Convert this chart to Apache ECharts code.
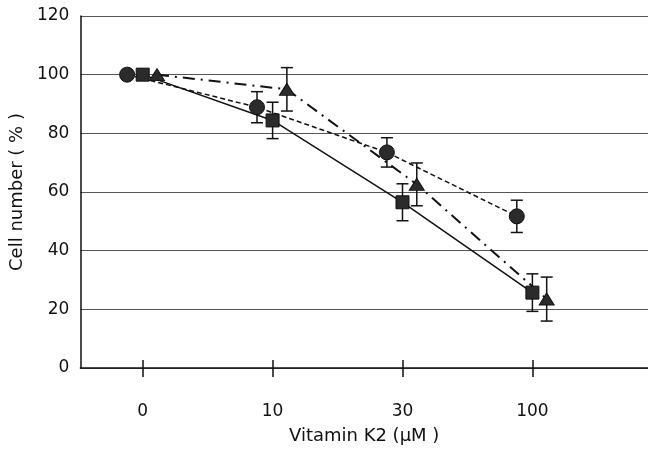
<!DOCTYPE html>
<html>
<head>
<meta charset="utf-8">
<script src="https://cdn.jsdelivr.net/npm/echarts@6/dist/echarts.min.js"></script>
<style>
html, body { margin: 0; padding: 0; background: #fff; }
#main { width: 648px; height: 450px; }
</style>
</head>
<body>
<div id="main"></div>
<script>
// dose categories (plotted at index 0..3)
var doses = ['0', '10', '30', '100'];
var yTicks = [0, 20, 40, 60, 80, 100, 120];

// cell number (%) mean and error
var circleMean = [100, 88.9, 73.5, 51.7];
var circleErr = [0, 5.3, 5.0, 5.5];
var squareMean = [100, 84.4, 56.5, 25.7];
var squareErr = [0, 6.2, 6.3, 6.4];
var triMean = [100, 95.0, 62.6, 23.5];
var triErr = [0, 7.4, 7.3, 7.5];

// horizontal shift of each group so markers don't overlap
var circleShift = -0.12;
var squareShift = 0.0;
var triShift = 0.11;

var font = 'DejaVu Sans, sans-serif';

function pts(mean, shift) {
    return mean.map(function (v, i) { return [i + shift, v]; });
}
function errPts(mean, err, shift) {
    var res = [];
    mean.forEach(function (v, i) {
        if (err[i] > 0) res.push([i + shift, v - err[i], v + err[i]]);
    });
    return res;
}
function errBars(params, api) {
    var x = api.value(0);
    var lo = api.coord([x, api.value(1)]);
    var hi = api.coord([x, api.value(2)]);
    var cap = 6;
    var st = { stroke: '#111', lineWidth: 1.5 };
    return {
        type: 'group',
        children: [
            { type: 'line', shape: { x1: lo[0], y1: lo[1], x2: hi[0], y2: hi[1] }, style: st },
            { type: 'line', shape: { x1: lo[0] - cap, y1: lo[1], x2: lo[0] + cap, y2: lo[1] }, style: st },
            { type: 'line', shape: { x1: hi[0] - cap, y1: hi[1], x2: hi[0] + cap, y2: hi[1] }, style: st }
        ]
    };
}

var myChart = echarts.init(document.getElementById('main'));
var option = {
    animation: false,
    backgroundColor: '#fff',
    grid: { left: 78, right: 0, top: 16, bottom: 76 },
    xAxis: [
        {
            type: 'value',
            min: -0.48,
            max: 3.89,
            name: 'Vitamin K2 (μM )',
            nameLocation: 'middle',
            nameGap: 59,
            nameTextStyle: { color: '#111', fontSize: 18, fontFamily: font },
            axisLine: { show: true, onZero: false, lineStyle: { color: '#111', width: 1.5 } },
            axisTick: { show: true, length: 9, customValues: [0, 1, 2, 3], lineStyle: { color: '#111', width: 1.5 } },
            axisLabel: {
                customValues: [0, 1, 2, 3],
                margin: 35,
                color: '#111', fontSize: 17, fontFamily: font,
                formatter: function (v) { return doses[Math.round(v)]; }
            },
            splitLine: { show: false }
        },
        {
            // inner half of the crossing tick marks
            type: 'value',
            min: -0.48,
            max: 3.89,
            position: 'bottom',
            axisLine: { show: false, onZero: false },
            axisTick: { show: true, inside: true, length: 8, customValues: [0, 1, 2, 3], lineStyle: { color: '#111', width: 1.5 } },
            axisLabel: { show: false },
            splitLine: { show: false }
        }
    ],
    yAxis: {
        type: 'value',
        min: 0,
        max: 120,
        interval: 20,
        name: 'Cell number ( % )',
        nameLocation: 'middle',
        nameGap: 52,
        nameTextStyle: { color: '#111', fontSize: 18, fontFamily: font },
        axisLine: { show: true, onZero: false, lineStyle: { color: '#111', width: 1.5 } },
        axisTick: { show: false },
        axisLabel: { margin: 11, color: '#111', fontSize: 17, fontFamily: font },
        splitLine: { show: true, lineStyle: { color: '#555', width: 1.2 } }
    },
    series: [
        { type: 'custom', renderItem: errBars, data: errPts(circleMean, circleErr, circleShift), z: 3 },
        { type: 'custom', renderItem: errBars, data: errPts(squareMean, squareErr, squareShift), z: 3 },
        { type: 'custom', renderItem: errBars, data: errPts(triMean, triErr, triShift), z: 3 },
        {
            type: 'line', data: pts(circleMean, circleShift), z: 4,
            symbol: 'circle', symbolSize: 15, showAllSymbol: true,
            lineStyle: { color: '#111', width: 1.5, type: [5, 3] },
            itemStyle: { color: '#2b2b2b', borderColor: '#111', borderWidth: 1 }
        },
        {
            type: 'line', data: pts(squareMean, squareShift), z: 4,
            symbol: 'rect', symbolSize: 13, showAllSymbol: true,
            lineStyle: { color: '#111', width: 1.5, type: 'solid' },
            itemStyle: { color: '#2b2b2b', borderColor: '#111', borderWidth: 1 }
        },
        {
            type: 'line', data: pts(triMean, triShift), z: 4,
            symbol: 'triangle', symbolSize: [15, 12], showAllSymbol: true,
            lineStyle: { color: '#111', width: 2, type: [12, 6, 2, 6] },
            itemStyle: { color: '#2b2b2b', borderColor: '#111', borderWidth: 1 }
        }
    ]
};
myChart.setOption(option);
window.onresize = myChart.resize;
</script>
</body>
</html>
